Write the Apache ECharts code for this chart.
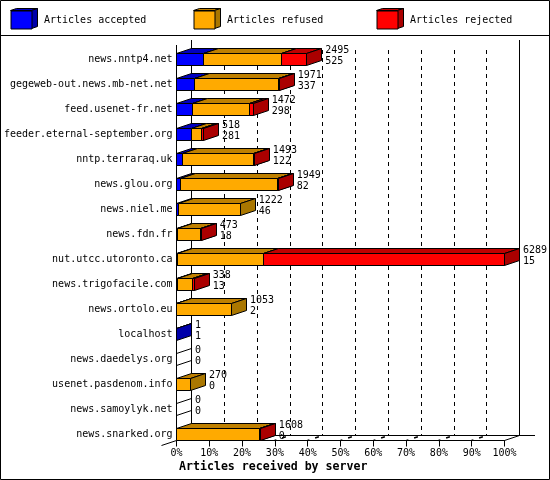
<!DOCTYPE html>
<html><head><meta charset="utf-8">
<style>html,body{margin:0;padding:0;background:#fff}#c{width:550px;height:480px}</style>
<script src="https://cdn.jsdelivr.net/npm/echarts@6/dist/echarts.min.js"></script>
</head><body><div id="c"></div>
<script>
const servers = ['news.nntp4.net','gegeweb-out.news.mb-net.net','feed.usenet-fr.net','feeder.eternal-september.org','nntp.terraraq.uk','news.glou.org','news.niel.me','news.fdn.fr','nut.utcc.utoronto.ca','news.trigofacile.com','news.ortolo.eu','localhost','news.daedelys.org','usenet.pasdenom.info','news.samoylyk.net','news.snarked.org'];
const accepted = [525,337,298,281,122,82,46,18,15,13,2,1,0,0,0,0];
const refused  = [1488,1623,1098,194,1358,1851,1176,447,1653,294,1051,0,0,270,0,1588];
const rejected = [482,11,76,43,13,16,0,8,4621,31,0,0,0,0,0,20];
const totals   = [2495,1971,1472,518,1493,1949,1222,473,6289,338,1053,1,0,270,0,1608];
const maxTotal = 6289;
const tickPercents = [0,10,20,30,40,50,60,70,80,90,100];
const seriesNames = ['Articles accepted','Articles refused','Articles rejected'];
const frontColors = ['#0000ff','#ffaa00','#ff0000'];
const sideColors  = ['#0000aa','#aa7700','#aa0000'];
const topColors   = ['#0000c0','#bf8000','#bf0000'];

const FONT = '"DejaVu Sans Mono"';
const DX = 15, DY = 5, BAR_H = 12;
const crisp = v => Math.round(v - 0.5) + 0.5;
const poly = (points, fill) => ({type:'polygon', shape:{points}, style:{fill, stroke:'#000', lineWidth:1}});
const line = (x1,y1,x2,y2,extra) => ({type:'line', shape:{x1,y1,x2,y2}, style:Object.assign({stroke:'#000',lineWidth:1},extra||{}), z:1});

function segments(k, values){
  const stack = [accepted, refused, rejected];
  return values.map((v,i)=>{
    let start = 0;
    for(let j=0;j<k;j++) start += stack[j][i];
    return [start/maxTotal*100, (start+v)/maxTotal*100, i, v, totals[i]];
  });
}
function renderBar(k){
  return function(params, api){
    const v = api.value(3), total = api.value(4);
    if(v === 0 && !(k === 0 && total === 0)) return null;
    const a = api.coord([api.value(0), api.value(2)]);
    const b = api.coord([api.value(1), api.value(2)]);
    const x0 = crisp(a[0]), x1 = crisp(b[0]);
    const t = crisp(a[1]-5.5), bo = t + BAR_H;
    if(total === 0){
      return {type:'group', children:[
        line(x0,t,x0+DX,t-DY), line(x0,bo,x0+DX,bo-DY)
      ]};
    }
    return {type:'group', children:[
      poly([[x0,t],[x1,t],[x1+DX,t-DY],[x0+DX,t-DY]], topColors[k]),
      poly([[x1,t],[x1+DX,t-DY],[x1+DX,bo-DY],[x1,bo]], sideColors[k]),
      poly([[x0,t],[x1,t],[x1,bo],[x0,bo]], frontColors[k])
    ]};
  };
}
function renderLabels(params, api){
  const c = api.coord([api.value(0), api.value(1)]);
  const x = c[0] + DX + 3.5, y = c[1];
  const txt = (text, yy) => ({type:'text', style:{text:String(text), x, y:yy, fill:'#000', font:'10px '+FONT, textAlign:'left', textVerticalAlign:'middle'}});
  return {type:'group', children:[txt(api.value(2), y-9), txt(api.value(3), y+2)]};
}
function renderFloor(params, api){
  const c = api.coord([api.value(0), servers.length-1]);
  const x = crisp(c[0]), y = crisp(c[1]+6.5);
  return line(x,y,x+DX,y-DY,{lineDash:[2,6,4,20],lineWidth:1.5});
}

const swatch = (x,k) => [
  {type:'polygon', shape:{points:[[x,10.5],[x+6,8.5],[x+27,8.5],[x+21,10.5]]}, style:{fill:topColors[k],stroke:'#000',lineWidth:1}},
  {type:'polygon', shape:{points:[[x+21,10.5],[x+27,8.5],[x+27,26.5],[x+21,28.5]]}, style:{fill:sideColors[k],stroke:'#000',lineWidth:1}}
];
const legendLefts = [10.5,193.5,376.5];

const chart = echarts.init(document.getElementById('c'), null, {renderer:'canvas'});
chart.setOption({
  animation:false,
  backgroundColor:'#fff',
  title:{text:'Articles received by server', left:179, top:461, padding:0,
    textStyle:{fontFamily:FONT,fontSize:11.6,fontWeight:'bold',color:'#000'}},
  legend:seriesNames.map((n,k)=>({left:legendLefts[k], top:10.5, padding:0, itemWidth:21, itemHeight:18, selectedMode:false, icon:'rect',
    textStyle:{fontFamily:FONT,fontSize:10,color:'#000',padding:[0,0,0,7]},
    data:[{name:n,icon:'rect',itemStyle:{color:frontColors[k],borderColor:'#000',borderWidth:1}}]})),
  grid:[
    {left:176.5, width:328, top:46.5, height:400},
    {left:191.5, width:328, top:50, height:385.5}
  ],
  xAxis:[
    {gridIndex:0,type:'value',min:0,max:100,interval:10,offset:-6,
      axisLine:{show:true,onZero:false,lineStyle:{color:'#000'}},
      axisTick:{show:true,length:6,lineStyle:{color:'#000'}},
      axisLabel:{formatter:'{value}%',fontFamily:FONT,fontSize:10,color:'#000',margin:8,hideOverlap:false,showMinLabel:true,showMaxLabel:true},
      splitLine:{show:false}},
    {gridIndex:1,type:'value',min:0,max:100,interval:10,
      axisLine:{show:false},axisTick:{show:false},axisLabel:{show:false},
      splitLine:{show:true,lineStyle:{color:'#000',type:[4,4],width:1}}}
  ],
  yAxis:[
    {gridIndex:0,type:'category',inverse:true,data:servers,
      axisLine:{show:false},axisTick:{show:false},
      axisLabel:{interval:0,margin:4,fontFamily:FONT,fontSize:10,color:'#000'}},
    {gridIndex:1,type:'value',show:false}
  ],
  graphic:{elements:[
    line(0.5,35.5,549.5,35.5),
    line(176.5,45,176.5,440.5),
    line(191.5,40,191.5,435.5),
    line(519.5,40,519.5,435.5),
    line(191.5,435.5,535,435.5),
    line(161.5,445.5,191.5,435.5),
    line(504.5,440.5,519.5,435.5),
    {type:'rect',shape:{x:0.5,y:0.5,width:549,height:479},style:{fill:'none',stroke:'#000',lineWidth:1},z:10},
    ...swatch(10.5,0), ...swatch(193.5,1), ...swatch(376.5,2)
  ]},
  series:[
    {type:'custom',name:'floor',coordinateSystem:'cartesian2d',xAxisIndex:0,yAxisIndex:0,z:3,clip:false,silent:true,
      data:tickPercents.slice(1,-1).map(p=>[p]),encode:{x:0},renderItem:renderFloor},
    ...[accepted,refused,rejected].map((vals,k)=>({
      type:'custom',name:seriesNames[k],coordinateSystem:'cartesian2d',xAxisIndex:0,yAxisIndex:0,z:5+k,clip:false,
      itemStyle:{color:frontColors[k]},
      data:segments(k,vals),encode:{x:[0,1],y:2},renderItem:renderBar(k)
    })),
    {type:'custom',name:'labels',coordinateSystem:'cartesian2d',xAxisIndex:0,yAxisIndex:0,z:9,clip:false,silent:true,
      data:totals.map((t,i)=>[t/maxTotal*100,i,t,accepted[i]]),encode:{x:0,y:1},renderItem:renderLabels}
  ]
});
</script></body></html>
